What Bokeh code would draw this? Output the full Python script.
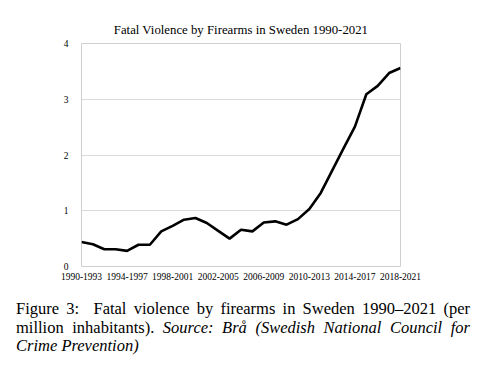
from bokeh.plotting import figure
from bokeh.models import ColumnDataSource, FixedTicker, Div, Range1d
from bokeh.layouts import column
from bokeh.embed import file_html
from bokeh.resources import INLINE

periods = [f"{y}-{y+3}" for y in range(1990, 2019)]
rate = [0.44, 0.40, 0.31, 0.31, 0.28, 0.39, 0.39, 0.63, 0.73, 0.84,
        0.87, 0.78, 0.64, 0.50, 0.66, 0.63, 0.79, 0.81, 0.75, 0.85,
        1.03, 1.32, 1.72, 2.12, 2.51, 3.09, 3.24, 3.47, 3.56]
y_ticks = [0, 1, 2, 3, 4]
x_tick_idx = [0, 4, 8, 12, 16, 20, 24, 28]

src = ColumnDataSource(dict(x=list(range(len(periods))), y=rate, period=periods))

FONT = "Liberation Serif"

p = figure(frame_width=319, frame_height=223, output_backend="svg", toolbar_location=None,
           x_range=Range1d(0, len(periods) - 1), y_range=Range1d(0, 4),
           title="Fatal Violence by Firearms in Sweden 1990-2021",
           min_border_left=73, min_border_right=77, min_border_top=35,
           min_border_bottom=34)
p.title.align = "center"
p.title.text_font = FONT
p.title.text_font_size = "12.8px"
p.title.text_font_style = "normal"
p.title.text_color = "black"
p.title.standoff = 13

p.line("x", "y", source=src, line_color="black", line_width=2.6)

p.outline_line_color = "#cfcfcf"
p.outline_line_width = 1
p.xgrid.visible = False
p.ygrid.grid_line_color = "#d9d9d9"
p.ygrid.ticker = FixedTicker(ticks=y_ticks)

p.xaxis.ticker = FixedTicker(ticks=x_tick_idx)
p.xaxis.major_label_overrides = {i: periods[i] for i in x_tick_idx}
p.yaxis.ticker = FixedTicker(ticks=y_ticks)
for ax in (p.xaxis[0], p.yaxis[0]):
    ax.axis_line_color = None
    ax.major_tick_line_color = None
    ax.minor_tick_line_color = None
    ax.major_label_text_font = FONT
    ax.major_label_text_font_size = "9.5px"
    ax.major_label_text_color = "black"
p.xaxis.major_label_standoff = 0
p.yaxis.major_label_standoff = 7

cap_style = "font-family:'Liberation Serif',serif;font-size:16.5px;line-height:18.5px;color:black;"
line_j = "text-align:justify;text-align-last:justify;"
caption = Div(width=454, margin=(0, 0, 0, 8), text=(
    f"<div style=\"{cap_style}width:454px;\">"
    f"<div style=\"{line_j}\">Figure 3:&nbsp; Fatal violence by firearms in Sweden 1990–2021 (per</div>"
    f"<div style=\"{line_j}\">million inhabitants). <i>Source: Brå (Swedish National Council for</i></div>"
    f"<div><i>Crime Prevention)</i></div>"
    f"</div>"))

layout = column(p, caption, spacing=0, margin=(8, 0, 0, 8))
open("out.html", "w").write(file_html(layout, INLINE))
